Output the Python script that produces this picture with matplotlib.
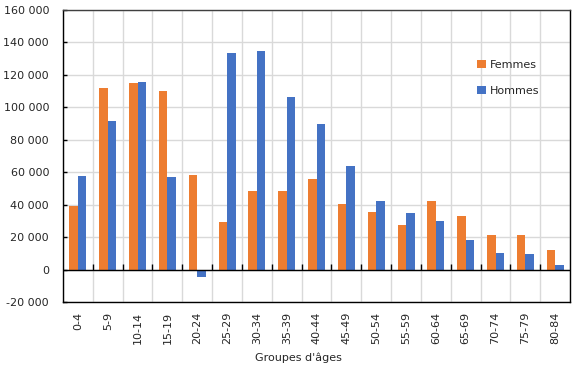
import matplotlib
matplotlib.use("Agg")
import matplotlib.pyplot as plt
import numpy as np
from matplotlib.ticker import FuncFormatter, MultipleLocator

categories = ["0-4", "5-9", "10-14", "15-19", "20-24", "25-29", "30-34", "35-39",
              "40-44", "45-49", "50-54", "55-59", "60-64", "65-69", "70-74", "75-79", "80-84"]
femmes = [38900, 111700, 115200, 109900, 58000, 29600, 48300, 48300,
          56000, 40500, 35400, 27600, 42400, 32700, 21000, 21000, 12300]
hommes = [57400, 91500, 115400, 57200, -4300, 133300, 134800, 106400,
          89900, 63800, 42400, 35000, 29800, 18500, 9900, 9700, 2500]
series_labels = ["Femmes", "Hommes"]
xlabel = "Groupes d'âges"

plt.rcParams['font.family'] = ['DejaVu Sans']
text_color = '#262626'

fig = plt.figure(figsize=(5.8, 3.69), dpi=100)
ax = fig.add_axes([0.1086, 0.1816, 0.983 - 0.1086, 0.973 - 0.1816])

x = np.arange(len(categories))
w = 0.285
ax.bar(x - w / 2, femmes, width=w, color='#ED7D31', label=series_labels[0], zorder=3)
ax.bar(x + w / 2, hommes, width=w, color='#4472C4', label=series_labels[1], zorder=3)

ax.set_xlim(-0.5, len(categories) - 0.5)
ax.set_ylim(-20000, 160000)
ax.yaxis.set_major_locator(MultipleLocator(20000))
ax.yaxis.set_major_formatter(FuncFormatter(lambda v, p: f"{int(v):,}".replace(",", " ")))

ax.set_xticks(x)
ax.set_xticklabels(categories, rotation=90, va='top', ha='center')
ax.set_xticks(np.arange(-0.5, len(categories), 1.0), minor=True)

ax.grid(True, which='major', axis='y', color='#D9D9D9', linewidth=1, zorder=0)
ax.grid(True, which='minor', axis='x', color='#D9D9D9', linewidth=1, zorder=0)
ax.tick_params(axis='both', which='both', length=0, labelsize=8, colors=text_color)
ax.tick_params(axis='x', which='major', pad=7)
ax.tick_params(axis='y', direction='in', length=3, width=1, color='black', pad=10)

# zero axis line with upward tick marks at category boundaries
ax.axhline(0, color='black', linewidth=1, zorder=4)
bounds = np.arange(0.5, len(categories) - 0.5, 1.0)
ax.plot(bounds, np.zeros_like(bounds), linestyle='none', marker=2, markersize=4,
        color='black', markeredgewidth=1, zorder=4, clip_on=False)

for s in ax.spines.values():
    s.set_color('black')
    s.set_linewidth(1)
ax.spines['top'].set_color('#404040')

ax.set_xlabel(xlabel, fontsize=8, color=text_color)
ax.xaxis.set_label_coords(0.4635, -0.192)
ax.xaxis.label.set_verticalalignment('center')

leg = fig.legend(loc='upper left', bbox_to_anchor=(0.823, 0.838), frameon=False,
                 fontsize=8, handlelength=0.75, handleheight=0.75, handletextpad=0.4,
                 labelspacing=1.45, borderpad=0, borderaxespad=0)
for t in leg.get_texts():
    t.set_color(text_color)

fig.savefig("out.png", dpi=100)
